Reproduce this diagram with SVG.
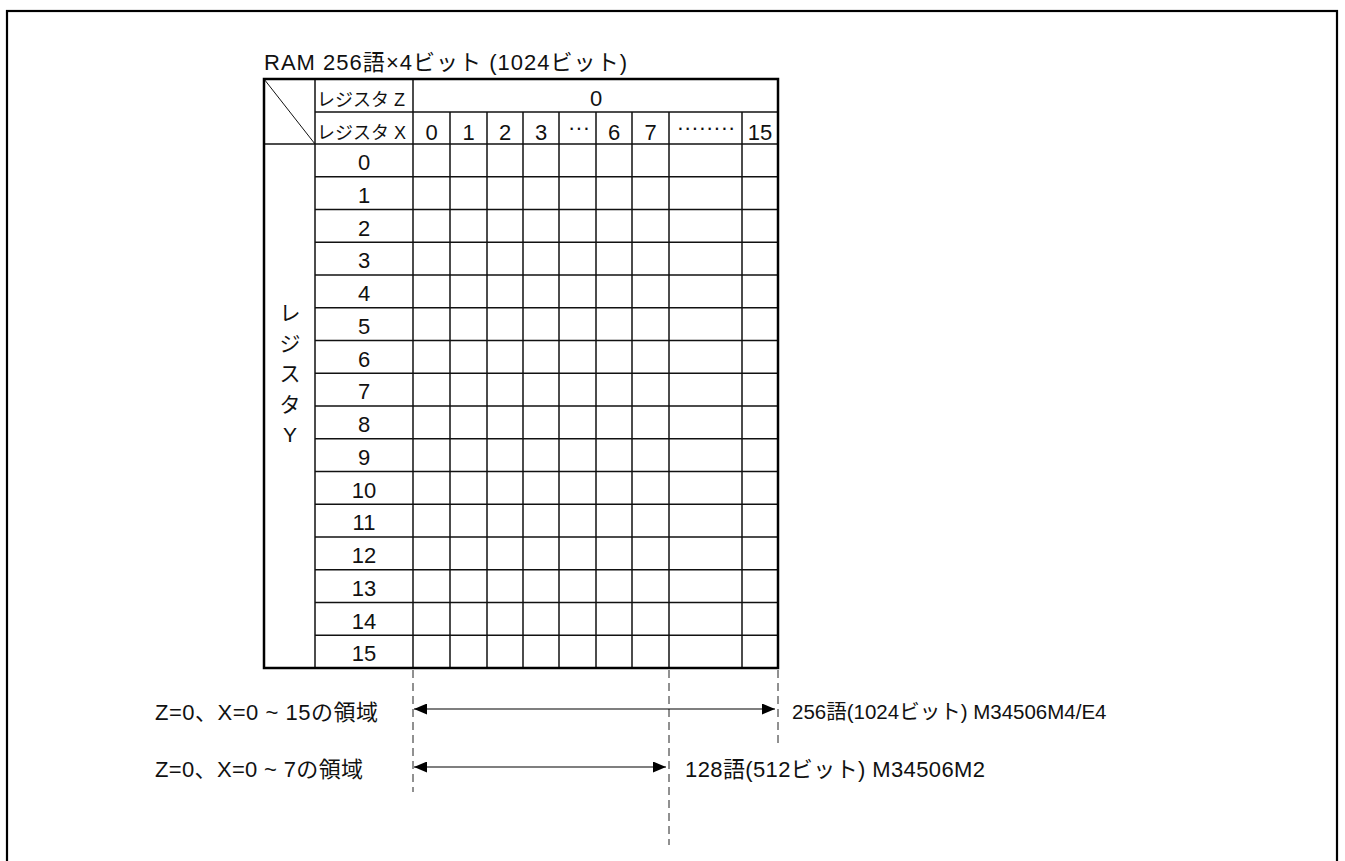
<svg xmlns="http://www.w3.org/2000/svg" width="1345" height="861" viewBox="0 0 1345 861">
<style>
text{font-family:"Liberation Sans","Noto Sans CJK JP",sans-serif;fill:#111}
.t22{font-size:22px}
.t21{font-size:21px}
.t20{font-size:20.5px}
.t18{font-size:18px}
.c{text-anchor:middle}
.grid line{stroke:#111;stroke-width:1.5}
.outer{fill:none;stroke:#000;stroke-width:2.5}
.dash{stroke:#222;stroke-width:1;stroke-dasharray:8 5}
.arr{stroke:#000;stroke-width:1.2;fill:none}
</style>
<defs>
<marker id="ah" viewBox="0 0 13 11" refX="13" refY="5.5" markerWidth="13" markerHeight="11" markerUnits="userSpaceOnUse" orient="auto-start-reverse">
<path d="M0,0 L13,5.5 L0,11 Z" fill="#000"/>
</marker>
</defs>
<rect id="frame" x="7" y="11" width="1330" height="870" fill="#fff" stroke="#000" stroke-width="2.2"/>
<g id="title">
<text class="t22" x="264" y="70" textLength="363" lengthAdjust="spacing">RAM 256語×4ビット (1024ビット)</text>
</g>
<g id="table">
<g class="grid">
<line x1="264" y1="79" x2="315" y2="144" style="stroke-width:1"/>
<line x1="315" y1="79" x2="315" y2="668"/>
<line x1="413" y1="79" x2="413" y2="668"/>
<line x1="450" y1="112" x2="450" y2="668"/>
<line x1="487" y1="112" x2="487" y2="668"/>
<line x1="523" y1="112" x2="523" y2="668"/>
<line x1="559" y1="112" x2="559" y2="668"/>
<line x1="596" y1="112" x2="596" y2="668"/>
<line x1="632" y1="112" x2="632" y2="668"/>
<line x1="669" y1="112" x2="669" y2="668"/>
<line x1="742" y1="112" x2="742" y2="668"/>
<line x1="315" y1="112" x2="778" y2="112"/>
<line x1="264" y1="144" x2="778" y2="144"/>
<line x1="315" y1="176.75" x2="778" y2="176.75"/>
<line x1="315" y1="209.5" x2="778" y2="209.5"/>
<line x1="315" y1="242.25" x2="778" y2="242.25"/>
<line x1="315" y1="275" x2="778" y2="275"/>
<line x1="315" y1="307.75" x2="778" y2="307.75"/>
<line x1="315" y1="340.5" x2="778" y2="340.5"/>
<line x1="315" y1="373.25" x2="778" y2="373.25"/>
<line x1="315" y1="406" x2="778" y2="406"/>
<line x1="315" y1="438.75" x2="778" y2="438.75"/>
<line x1="315" y1="471.5" x2="778" y2="471.5"/>
<line x1="315" y1="504.25" x2="778" y2="504.25"/>
<line x1="315" y1="537" x2="778" y2="537"/>
<line x1="315" y1="569.75" x2="778" y2="569.75"/>
<line x1="315" y1="602.5" x2="778" y2="602.5"/>
<line x1="315" y1="635.25" x2="778" y2="635.25"/>
</g>
<rect class="outer" x="264" y="79" width="514" height="589"/>
<text class="t18" x="317" y="106">レジスタ Z</text>
<text class="t18" x="317" y="139">レジスタ X</text>
<text class="t22 c" x="596" y="106">0</text>
<g class="t22 c">
<text x="431.5" y="140">0</text>
<text x="468.5" y="140">1</text>
<text x="505" y="140">2</text>
<text x="541" y="140">3</text>
<text x="579" y="135">···</text>
<text x="614" y="140">6</text>
<text x="650.5" y="140">7</text>
<text x="706" y="135">········</text>
<text x="760" y="140">15</text>
</g>
<g class="t22 c">
<text x="364" y="170">0</text>
<text x="364" y="202.75">1</text>
<text x="364" y="235.5">2</text>
<text x="364" y="268.25">3</text>
<text x="364" y="301">4</text>
<text x="364" y="333.75">5</text>
<text x="364" y="366.5">6</text>
<text x="364" y="399.25">7</text>
<text x="364" y="432">8</text>
<text x="364" y="464.75">9</text>
<text x="364" y="497.5">10</text>
<text x="364" y="530.25">11</text>
<text x="364" y="563">12</text>
<text x="364" y="595.75">13</text>
<text x="364" y="628.5">14</text>
<text x="364" y="661.25">15</text>
</g>
<g class="t21 c">
<text x="290" y="320">レ</text>
<text x="290" y="350.5">ジ</text>
<text x="290" y="381">ス</text>
<text x="290" y="411.5">タ</text>
<text x="290" y="442">Y</text>
</g>
</g>
<g id="connectors">
<line class="dash" x1="413" y1="670" x2="413" y2="792"/>
<line class="dash" x1="669" y1="670" x2="669" y2="845"/>
<line class="dash" x1="778" y1="670" x2="778" y2="745"/>
<line class="arr" x1="414" y1="709" x2="775" y2="709" marker-start="url(#ah)" marker-end="url(#ah)"/>
<line class="arr" x1="414" y1="767" x2="666" y2="767" marker-start="url(#ah)" marker-end="url(#ah)"/>
</g>
<g id="label-z0x15">
<text class="t22" x="155" y="720" textLength="223" lengthAdjust="spacing">Z=0、X=0 ~ 15の領域</text>
</g>
<g id="label-z0x7">
<text class="t22" x="155" y="777" textLength="208" lengthAdjust="spacing">Z=0、X=0 ~ 7の領域</text>
</g>
<g id="note-256">
<text class="t20" x="792" y="719">256語(1024ビット) M34506M4/E4</text>
</g>
<g id="note-128">
<text class="t22" x="685" y="777" textLength="300" lengthAdjust="spacing">128語(512ビット) M34506M2</text>
</g>
</svg>
